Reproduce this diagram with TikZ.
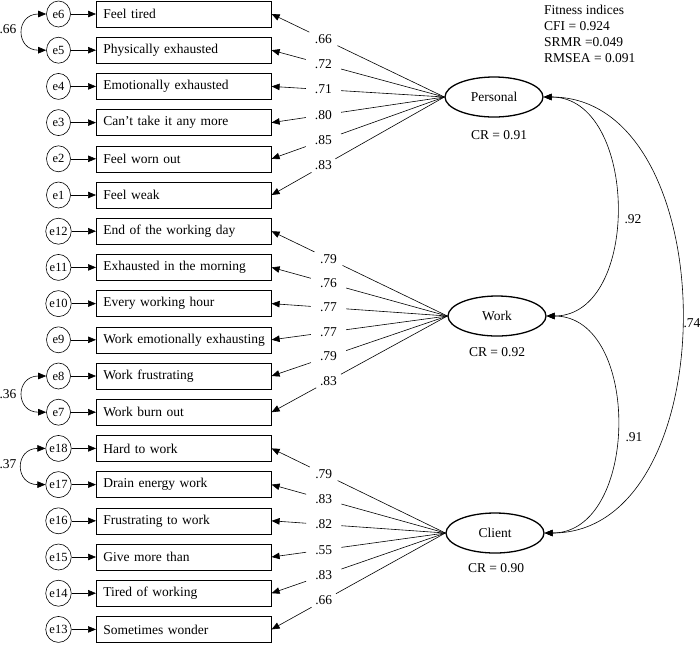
\documentclass[tikz,border=0pt]{standalone}
\usepackage{fontspec}
\setmainfont{Liberation Serif}
\usetikzlibrary{arrows.meta,shapes.geometric}
\begin{document}
\begin{tikzpicture}[x=1pt,y=-1pt,
  every node/.style={font=\fontsize{13.5}{16}\selectfont},
  ln/.style={line width=0.6pt},
  arr/.style={ln,-{Triangle[length=8pt,width=6.5pt]}},
  darr/.style={ln,{Triangle[length=8pt,width=6.5pt]}-{Triangle[length=8pt,width=6.5pt]}},
  item/.style={draw,ln,anchor=west,minimum height=26pt,text width=161pt,inner xsep=7pt,inner ysep=0pt,align=left},
  err/.style={draw,ln,ellipse,minimum width=24pt,minimum height=26pt,inner sep=0pt,font=\fontsize{12.5}{14}\selectfont},
  lat/.style={draw,line width=1.3pt,ellipse,minimum width=98pt,minimum height=40pt,inner sep=0pt},
  lbl/.style={inner xsep=9pt,inner ysep=2pt},
  txt/.style={inner sep=0pt}
]
\useasboundingbox (0,0) rectangle (700,646);

% indicators and error terms
\foreach \i/\e/\t in {0/e6/Feel tired,1/e5/Physically exhausted,2/e4/Emotionally exhausted,3/e3/Can't take it any more,4/e2/Feel worn out,5/e1/Feel weak,6/e12/End of the working day,7/e11/Exhausted in the morning,8/e10/Every working hour,9/e9/Work emotionally exhausting,10/e8/Work frustrating,11/e7/Work burn out,12/e18/Hard to work,13/e17/Drain energy work,14/e16/Frustrating to work,15/e15/Give more than,16/e14/Tired of working,17/e13/Sometimes wonder}{
  \node[item] (b\i) at (96,{14+36.2*\i}) {\mbox{\t}};
  \node[err] (e\i) at (58.5,{14+36.2*\i}) {\e};
  \draw[arr] (e\i) -- (b\i);
}

% latent factors
\node[lat] (P) at (494,97) {Personal};
\node[lat] (W) at (497,316) {Work};
\node[lat] (C) at (495,533) {Client};
\node[txt] (crP) at (499,135) {CR = 0.91};
\node[txt] (crW) at (497,352) {CR = 0.92};
\node[txt] (crC) at (496,568) {CR = 0.90};

% loadings
\foreach \r/\v in {0/.66,1/.72,2/.71,3/.80,4/.85,5/.83}{
  \path (P.west) -- (b\r.east) node[lbl,pos=0.7] (l\r) {\v};
  \draw[ln] (P.west) -- (l\r);
  \draw[arr] (l\r) -- (b\r.east);
}
\foreach \r/\v in {6/.79,7/.76,8/.77,9/.77,10/.79,11/.83}{
  \path (W.west) -- (b\r.east) node[lbl,pos=0.676] (l\r) {\v};
  \draw[ln] (W.west) -- (l\r);
  \draw[arr] (l\r) -- (b\r.east);
}
\foreach \r/\v in {12/.79,13/.83,14/.82,15/.55,16/.83,17/.66}{
  \path (C.west) -- (b\r.east) node[lbl,pos=0.7] (l\r) {\v};
  \draw[ln] (C.west) -- (l\r);
  \draw[arr] (l\r) -- (b\r.east);
}

% factor correlations
\draw[darr] (P.east) .. controls ([xshift=95pt]P.east) and ([xshift=95pt]W.east) .. (W.east);
\draw[darr] (W.east) .. controls ([xshift=95pt]W.east) and ([xshift=95pt]C.east) .. (C.east);
\draw[darr] (P.east) .. controls ([xshift=183pt]P.east) and ([xshift=183pt]C.east) .. (C.east);
\node[txt] (c1) at (633,219) {.92};
\node[txt] (c2) at (634,437) {.91};
\node[txt] (c3) at (692,323) {.74};

% error covariances
\draw[darr] (e0.west) .. controls ([xshift=-31pt]e0.west) and ([xshift=-31pt]e1.west) .. (e1.west);
\draw[darr] (e10.west) .. controls ([xshift=-31pt]e10.west) and ([xshift=-31pt]e11.west) .. (e11.west);
\draw[darr] (e12.west) .. controls ([xshift=-31pt]e12.west) and ([xshift=-31pt]e13.west) .. (e13.west);
\node[txt] (k1) at (8,29) {.66};
\node[txt] (k2) at (8,394) {.36};
\node[txt] (k3) at (8,464) {.37};

% fit indices
\node[txt,anchor=north west,align=left] (fit) at (544,5) {Fitness indices\\CFI = 0.924\\SRMR =0.049\\RMSEA = 0.091};
\end{tikzpicture}
\end{document}
